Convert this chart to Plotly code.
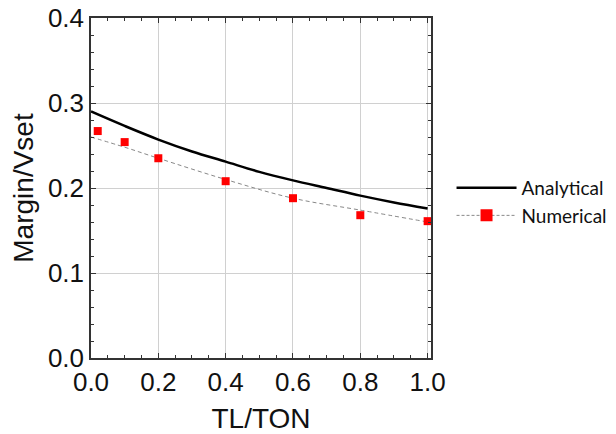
import plotly.graph_objects as go

# Analytical margin curve, normalized to Vset
tl_ton_analytical = [0.0, 0.1, 0.2, 0.3, 0.4, 0.5, 0.6, 0.7, 0.8, 0.9, 1.0]
margin_analytical = [0.290, 0.273, 0.257, 0.243, 0.231, 0.219, 0.209, 0.200, 0.191, 0.183, 0.176]

# Numerical (simulated) points
tl_ton_numerical = [0.02, 0.1, 0.2, 0.4, 0.6, 0.8, 1.0]
margin_numerical = [0.267, 0.254, 0.235, 0.208, 0.188, 0.168, 0.161]

# Trend through the numerical points
tl_ton_trend = [0.0, 0.1, 0.2, 0.4, 0.6, 0.8, 1.0]
margin_trend = [0.260, 0.248, 0.235, 0.210, 0.188, 0.174, 0.160]

x_ticks = [0.0, 0.2, 0.4, 0.6, 0.8, 1.0]
y_ticks = [0.0, 0.1, 0.2, 0.3, 0.4]

axis_font = "Liberation Sans, Arial, sans-serif"
legend_font = "Lato, sans-serif"

fig = go.Figure()

fig.add_trace(go.Scatter(
    x=tl_ton_analytical, y=margin_analytical, mode="lines",
    line=dict(color="black", width=2.5, shape="spline"),
    name="Analytical",
))

fig.add_trace(go.Scatter(
    x=tl_ton_trend, y=margin_trend, mode="lines",
    line=dict(color="#888888", width=1, dash="4px,3px", shape="spline"),
    showlegend=False, hoverinfo="skip",
))

fig.add_trace(go.Scatter(
    x=tl_ton_numerical, y=margin_numerical, mode="markers",
    marker=dict(symbol="square", color="#ff0000", size=8),
    showlegend=False, name="Numerical",
))

# Legend entry combining the dashed trend and the square marker
fig.add_trace(go.Scatter(
    x=[None], y=[None], mode="lines+markers",
    line=dict(color="#888888", width=1, dash="3px,2px"),
    marker=dict(symbol="square", color="#ff0000", size=12),
    name="Numerical",
))

axis_common = dict(
    showline=True, linecolor="#333333", linewidth=1.5, mirror="ticks",
    ticks="inside", ticklen=5, tickcolor="#333333", tickwidth=1,
    showgrid=True, gridcolor="#d0d0d0", gridwidth=1,
    zeroline=False, automargin=False,
    tickfont=dict(family=axis_font, size=26, color="#111111"),
    title_font=dict(family=axis_font, size=28, color="#111111"),
)

fig.update_xaxes(
    range=[0, 1.01], tickvals=x_ticks, ticktext=[f"{v:.1f}" for v in x_ticks],
    title_text="TL/TON", title_standoff=16,
    minor=dict(dtick=0.05, ticks="inside", ticklen=3, tickcolor="#333333", showgrid=False),
    **axis_common,
)
fig.update_yaxes(
    range=[0, 0.4], tickvals=y_ticks, ticktext=[f"{v:.1f}" for v in y_ticks],
    title_text="Margin/Vset", title_standoff=6,
    minor=dict(dtick=0.02, ticks="inside", ticklen=3, tickcolor="#333333", showgrid=False),
    **axis_common,
)

fig.update_layout(
    width=616, height=434,
    margin=dict(l=91, r=185, t=18, b=76),
    paper_bgcolor="white", plot_bgcolor="white",
    legend=dict(
        xref="container", yref="container",
        x=0.733, y=0.535, xanchor="left", yanchor="middle",
        font=dict(family=legend_font, size=19, color="#111111"),
        itemwidth=60, tracegroupgap=0, bgcolor="rgba(0,0,0,0)",
    ),
)

fig.write_html("out.html")
